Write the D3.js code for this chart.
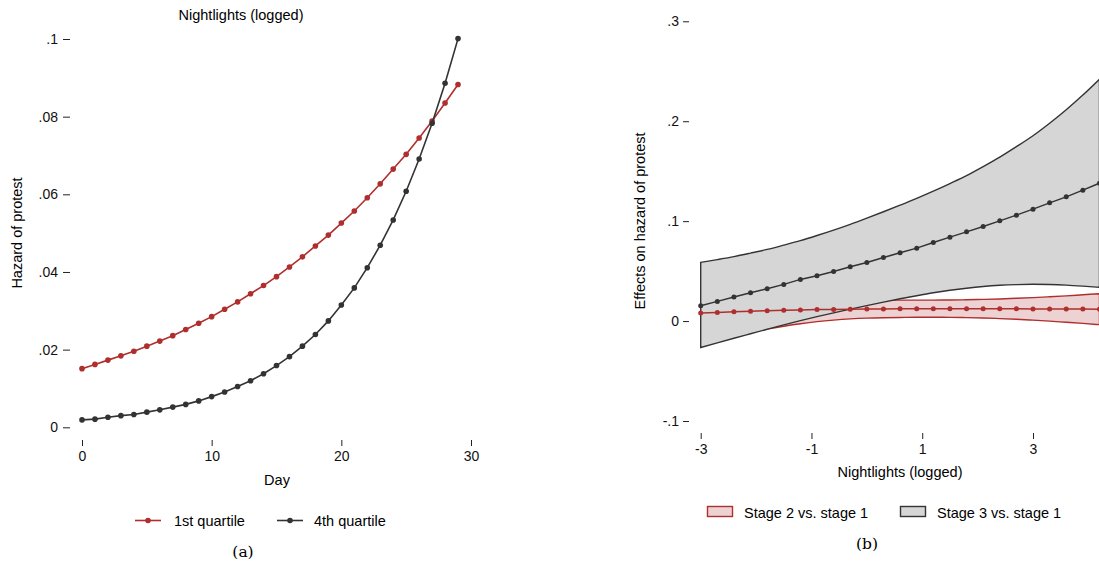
<!DOCTYPE html>
<html>
<head>
<meta charset="utf-8">
<script src="https://cdn.jsdelivr.net/npm/d3@7"></script>
<style>
  body { margin: 0; background: #fff; }
  svg { display: block; font-family: "Liberation Sans", Arial, Helvetica, sans-serif; }
  .axis text { font-size: 14px; fill: #111; font-family: "Liberation Sans", Arial, Helvetica, sans-serif; }
  .axis line { stroke: #222; }
  .axis path { display: none; }
</style>
</head>
<body>
<div id="vis"></div>
<script>
// panel (a): hazard by day
var days = d3.range(0, 30);
var q1 = [.0151, .0162, .0173, .0184, .0196, .0209, .0222, .0236, .0252, .0268,
          .0285, .0304, .0323, .0344, .0365, .0388, .0413, .0439, .0467, .0495,
          .0526, .0557, .0591, .0627, .0665, .0703, .0745, .0789, .0835, .0883];
var q4 = [.0019, .0021, .0026, .0030, .0033, .0039, .0045, .0052, .0059, .0068,
          .0079, .0091, .0105, .0120, .0138, .0159, .0182, .0209, .0239, .0274,
          .0315, .0359, .0411, .0469, .0534, .0608, .0691, .0783, .0886, .1001];
var leftYTicks = [0, .02, .04, .06, .08, .1];
var leftXTicks = [0, 10, 20, 30];

// panel (b): effects by nightlights
var lights = d3.range(25).map(function(i) { return -3 + 0.3 * i; });
var s2 = [.0080, .0087, .0093, .0099, .0104, .0108, .0112, .0115, .0117, .0119, .0121, .0122, .0123,
          .0124, .0124, .0124, .0124, .0124, .0123, .0123, .0122, .0121, .0120, .0120, .0119];
var s2hi = [.0380, .0355, .0331, .0309, .0288, .0268, .0251, .0236, .0224, .0216, .0212, .0210, .0210,
            .0210, .0210, .0211, .0213, .0217, .0221, .0228, .0235, .0243, .0252, .0263, .0274];
var s2lo = [-.0220, -.0181, -.0145, -.0111, -.0080, -.0052, -.0027, -.0006, .0010, .0022, .0030, .0034, .0036,
            .0038, .0038, .0037, .0035, .0031, .0025, .0018, .0009, -.0001, -.0012, -.0023, -.0036];
var s3 = [.0153, .0197, .0240, .0283, .0323, .0367, .0417, .0453, .0497, .0543, .0587, .0637, .0683,
          .0730, .0787, .0840, .0893, .0947, .1003, .1060, .1120, .1183, .1243, .1310, .1380];
var s3hi = [.0587, .0615, .0645, .0680, .0717, .0760, .0805, .0856, .0910, .0968, .1030, .1094, .1160,
            .1228, .1300, .1376, .1455, .1545, .1640, .1745, .1855, .1980, .2115, .2262, .2420];
var s3lo = [-.0265, -.0218, -.0172, -.0127, -.0082, -.0038, .0004, .0044, .0082, .0119, .0155, .0190, .0223,
            .0254, .0283, .0308, .0329, .0346, .0358, .0365, .0368, .0366, .0360, .0350, .0338];
var rightYTicks = [-.1, 0, .1, .2, .3];
var rightXTicks = [-3, -1, 1, 3];

var red = "#b02e2e", dark = "#333333";

var svg = d3.select("#vis").append("svg")
    .attr("width", 1099)
    .attr("height", 567);

// stata style labels: .02, -.1, 0
function fmt(d) {
  if (d == 0) return "0";
  var s = String(+Math.abs(d).toFixed(2)).replace(/^0/, "");
  return (d < 0 ? "-" : "") + s;
}
function fmtInt(d) { return (d < 0 ? "-" : "") + Math.abs(d); }

// ---------- panel (a)
var xL = d3.scaleLinear().domain([0, 30]).range([82, 471]),
    yL = d3.scaleLinear().domain([0, .1]).range([427.3, 39]);

svg.append("g").attr("class", "axis")
    .attr("transform", "translate(70,0)")
    .call(d3.axisLeft(yL).tickValues(leftYTicks).tickSize(7).tickPadding(5).tickFormat(fmt));

svg.append("g").attr("class", "axis")
    .attr("transform", "translate(0,440)")
    .call(d3.axisBottom(xL).tickValues(leftXTicks).tickSize(6).tickPadding(5).tickFormat(fmtInt));

svg.append("text").attr("x", 241).attr("y", 20).attr("text-anchor", "middle")
    .attr("font-size", 14.5).text("Nightlights (logged)");
svg.append("text").attr("x", 277).attr("y", 485).attr("text-anchor", "middle")
    .attr("font-size", 14.5).text("Day");
svg.append("text").attr("transform", "translate(22,233) rotate(-90)").attr("text-anchor", "middle")
    .attr("font-size", 14.5).text("Hazard of protest");

var lineL = d3.line().x(function(d) { return xL(d[0]); }).y(function(d) { return yL(d[1]); });

[[q1, red], [q4, dark]].forEach(function(s) {
  var pts = d3.zip(days, s[0]);
  svg.append("path").datum(pts).attr("d", lineL)
      .attr("fill", "none").attr("stroke", s[1]).attr("stroke-width", 1.6);
  svg.append("g").selectAll("circle").data(pts).enter().append("circle")
      .attr("cx", function(d) { return xL(d[0]); })
      .attr("cy", function(d) { return yL(d[1]); })
      .attr("r", 2.8).attr("fill", s[1]);
});

// legend (a)
[[135, 174, red, "1st quartile"], [277, 314, dark, "4th quartile"]].forEach(function(l) {
  svg.append("line").attr("x1", l[0]).attr("x2", l[0] + 26).attr("y1", 520.5).attr("y2", 520.5)
      .attr("stroke", l[2]).attr("stroke-width", 1.6);
  svg.append("circle").attr("cx", l[0] + 13).attr("cy", 520.5).attr("r", 2.8).attr("fill", l[2]);
  svg.append("text").attr("x", l[1]).attr("y", 525.5).attr("font-size", 14.5).text(l[3]);
});
svg.append("text").attr("x", 243).attr("y", 557).attr("text-anchor", "middle")
    .attr("font-family", "'DejaVu Serif', serif").attr("font-size", 15.5).text("(a)");

// ---------- panel (b)
var xR = d3.scaleLinear().domain([-3, 3]).range([700.7, 1033]),
    yR = d3.scaleLinear().domain([-.1, .3]).range([421, 21.3]);

svg.append("g").attr("class", "axis")
    .attr("transform", "translate(689,0)")
    .call(d3.axisLeft(yR).tickValues(rightYTicks).tickSize(6).tickPadding(4).tickFormat(fmt));

svg.append("g").attr("class", "axis")
    .attr("transform", "translate(0,433)")
    .call(d3.axisBottom(xR).tickValues(rightXTicks).tickSize(6).tickPadding(5).tickFormat(fmtInt));

svg.append("text").attr("x", 900).attr("y", 477).attr("text-anchor", "middle")
    .attr("font-size", 14.5).text("Nightlights (logged)");
svg.append("text").attr("transform", "translate(645,221) rotate(-90)").attr("text-anchor", "middle")
    .attr("font-size", 14.5).text("Effects on hazard of protest");

var area = d3.area()
    .x(function(d) { return xR(d[0]); })
    .y0(function(d) { return yR(d[1]); })
    .y1(function(d) { return yR(d[2]); })
    .curve(d3.curveMonotoneX);

function band(lo, hi, fill, stroke) {
  var pts = d3.zip(lights, lo, hi);
  svg.append("path").datum(pts).attr("d", function(d) { return area(d) + "Z"; })
      .attr("fill", fill).attr("stroke", stroke).attr("stroke-width", 1.4);
}
band(s2lo, s2hi, "#ecd2d3", red);
band(s3lo, s3hi, "#d6d6d6", dark);

var lineR = d3.line().x(function(d) { return xR(d[0]); }).y(function(d) { return yR(d[1]); });

[[s2, red], [s3, dark]].forEach(function(s) {
  var pts = d3.zip(lights, s[0]);
  svg.append("path").datum(pts).attr("d", lineR)
      .attr("fill", "none").attr("stroke", s[1]).attr("stroke-width", 1.5);
  svg.append("g").selectAll("circle").data(pts).enter().append("circle")
      .attr("cx", function(d) { return xR(d[0]); })
      .attr("cy", function(d) { return yR(d[1]); })
      .attr("r", 2.5).attr("fill", s[1]);
});

// legend (b)
[[707.5, 744, "#ecd2d3", red, "Stage 2 vs. stage 1"], [900.5, 937, "#d6d6d6", dark, "Stage 3 vs. stage 1"]].forEach(function(l) {
  svg.append("rect").attr("x", l[0]).attr("y", 506.5).attr("width", 25).attr("height", 10)
      .attr("fill", l[2]).attr("stroke", l[3]).attr("stroke-width", 1.4);
  svg.append("text").attr("x", l[1]).attr("y", 517.5).attr("font-size", 14.5).text(l[4]);
});
svg.append("text").attr("x", 867).attr("y", 549).attr("text-anchor", "middle")
    .attr("font-family", "'DejaVu Serif', serif").attr("font-size", 15.5).text("(b)");
</script>
</body>
</html>
